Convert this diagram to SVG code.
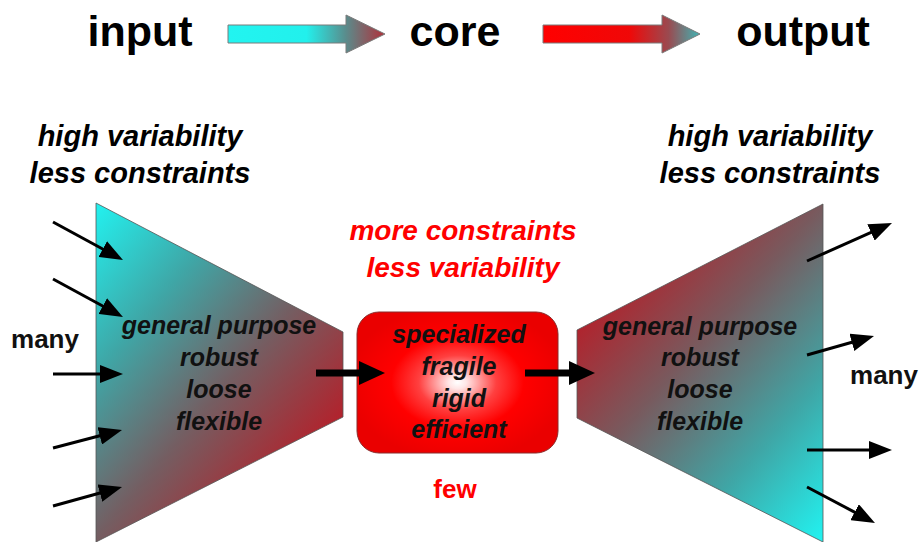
<svg xmlns="http://www.w3.org/2000/svg" width="921" height="542" viewBox="0 0 921 542">
<style>
  text { font-family: "Liberation Sans", Arial, sans-serif; font-weight: bold; text-anchor: middle; }
  .head { font-size: 43px; fill: #000; }
  .cap { font-size: 29px; font-style: italic; fill: #000; }
  .red { font-size: 28px; font-style: italic; fill: #ff0000; }
  .lbl { font-size: 25px; font-style: italic; fill: #111; }
  .many { font-size: 26px; fill: #111; }
  .thin { stroke: #000; stroke-width: 3; fill: none; marker-end: url(#ah); }
  .thick { stroke: #000; stroke-width: 7; fill: none; marker-end: url(#ahb); }
</style>
<defs>
  <marker id="ah" markerUnits="userSpaceOnUse" markerWidth="23" markerHeight="18" refX="2" refY="9" orient="auto">
    <path d="M0,0 L23,9 L0,18 z" fill="#000"/>
  </marker>
  <marker id="ahb" markerUnits="userSpaceOnUse" markerWidth="26" markerHeight="24" refX="2" refY="12" orient="auto">
    <path d="M0,0 L26,12 L0,24 z" fill="#000"/>
  </marker>
  <linearGradient id="gL" gradientUnits="userSpaceOnUse" x1="90" y1="200" x2="360" y2="430">
    <stop offset="0" stop-color="#20f6f4"/>
    <stop offset="0.33" stop-color="#3fa6a6"/>
    <stop offset="0.63" stop-color="#745e62"/>
    <stop offset="0.94" stop-color="#b2222c"/>
  </linearGradient>
  <linearGradient id="gR" gradientUnits="userSpaceOnUse" x1="560" y1="300" x2="830" y2="540">
    <stop offset="0.08" stop-color="#b2222c"/>
    <stop offset="0.37" stop-color="#785a5e"/>
    <stop offset="0.69" stop-color="#3fa6a6"/>
    <stop offset="1" stop-color="#20f6f4"/>
  </linearGradient>
  <radialGradient id="gC" cx="0.5" cy="0.5" r="0.55">
    <stop offset="0" stop-color="#ffffff"/>
    <stop offset="0.08" stop-color="#ffe6e6"/>
    <stop offset="0.35" stop-color="#ff4040"/>
    <stop offset="0.6" stop-color="#ff0000"/>
    <stop offset="1" stop-color="#ea0000"/>
  </radialGradient>
  <linearGradient id="gA1" x1="0" y1="0" x2="1" y2="0">
    <stop offset="0" stop-color="#22f4f0"/>
    <stop offset="0.5" stop-color="#22f0ec"/>
    <stop offset="0.75" stop-color="#5a8c8c"/>
    <stop offset="1" stop-color="#b0303a"/>
  </linearGradient>
  <linearGradient id="gA2" x1="0" y1="0" x2="1" y2="0">
    <stop offset="0" stop-color="#ff0000"/>
    <stop offset="0.55" stop-color="#f00808"/>
    <stop offset="0.8" stop-color="#9a4a50"/>
    <stop offset="1" stop-color="#40b4b4"/>
  </linearGradient>
</defs>

<g id="legend">
  <text class="head" x="140" y="46">input</text>
  <polygon id="arrow-input-core" points="228,25 346,25 346,15 385,34 346,53 346,43 228,43" fill="url(#gA1)" stroke="#7a7a7a" stroke-width="1"/>
  <text class="head" x="455" y="46">core</text>
  <polygon id="arrow-core-output" points="543,25 662,25 662,15 700,34 662,53 662,43 543,43" fill="url(#gA2)" stroke="#7a7a7a" stroke-width="1"/>
  <text class="head" x="803" y="46">output</text>
</g>

<g id="input-caption">
  <text class="cap" x="140" y="146">high variability</text>
  <text class="cap" x="140" y="183">less constraints</text>
</g>
<g id="output-caption">
  <text class="cap" x="770" y="146">high variability</text>
  <text class="cap" x="770" y="183">less constraints</text>
</g>
<g id="core-caption">
  <text class="red" x="463" y="240">more constraints</text>
  <text class="red" x="463" y="277">less variability</text>
  <text class="many" x="455" y="498" style="fill:#ff0000">few</text>
</g>

<g id="input">
  <polygon points="96,203 343,332 343,417 96,542" fill="url(#gL)" stroke="#555" stroke-width="0.8"/>
  <text class="lbl" x="219" y="334">general purpose</text>
  <text class="lbl" x="219" y="366">robust</text>
  <text class="lbl" x="219" y="398">loose</text>
  <text class="lbl" x="219" y="430">flexible</text>
</g>

<g id="core">
  <rect x="357" y="312" width="201" height="141" rx="22" ry="22" fill="url(#gC)" stroke="#8a2a2a" stroke-width="1"/>
  <text class="lbl" x="459" y="343">specialized</text>
  <text class="lbl" x="459" y="375">fragile</text>
  <text class="lbl" x="459" y="407">rigid</text>
  <text class="lbl" x="459" y="438">efficient</text>
</g>

<g id="output">
  <polygon points="577,330 823,204 823,542 577,418" fill="url(#gR)" stroke="#555" stroke-width="0.8"/>
  <text class="lbl" x="700" y="335">general purpose</text>
  <text class="lbl" x="700" y="366">robust</text>
  <text class="lbl" x="700" y="398">loose</text>
  <text class="lbl" x="700" y="430">flexible</text>
</g>

<g id="many-labels">
  <text class="many" x="45" y="348">many</text>
  <text class="many" x="884" y="384">many</text>
</g>

<g id="connectors">
  <path class="thin" d="M53,222 L104.5,250"/>
  <path class="thin" d="M53,279 L104.5,307"/>
  <path class="thin" d="M53,374 L102,374"/>
  <path class="thin" d="M53,448 L101.7,435.3"/>
  <path class="thin" d="M53,506 L101.8,492.5"/>
  <path class="thin" d="M807,261 L872.8,231.6"/>
  <path class="thin" d="M807,355 L853.8,341.8"/>
  <path class="thin" d="M807,450 L871,450"/>
  <path class="thin" d="M807,487 L856.4,513.1"/>
  <path class="thick" d="M316,373 L361,373"/>
  <path class="thick" d="M525,373 L571,373"/>
</g>
</svg>
